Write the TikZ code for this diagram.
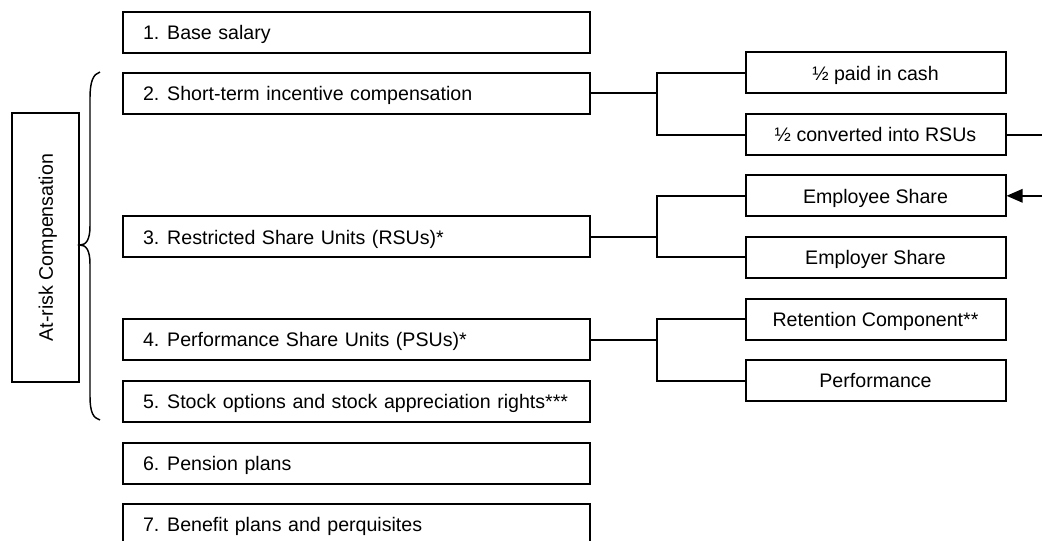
\documentclass[tikz,border=0pt]{standalone}
\usepackage{fontspec}
\setmainfont{Liberation Sans}
\usetikzlibrary{arrows.meta}
\newcommand{\mystrut}{\rule[-0.25em]{0pt}{1.25em}}
\begin{document}
\begin{tikzpicture}[x=0.75pt,y=-0.75pt,
  txt/.style={font=\fontsize{14.7}{18}\selectfont,execute at begin node={\mystrut}},
  lbox/.style={txt,draw,line width=1.5pt,minimum width=350.6pt,minimum height=30.75pt,
    text width=319.8pt,inner xsep=15.4pt,inner ysep=0pt,align=left},
  rbox/.style={txt,draw,line width=1.5pt,minimum width=195pt,minimum height=30.75pt,
    inner sep=0pt,align=center},
  conn/.style={line width=1.5pt},
  bracestyle/.style={line width=1.1pt}]
\clip (0,0) rectangle (1042,540);
\useasboundingbox (0,0) rectangle (1042,540);
% left column
\node[lbox] (b1) at (356.25,32.5) {\mbox{1.\hspace{0.4em}Base salary}};
\node[lbox] (b2) at (356.25,93) {\mbox{2.\hspace{0.4em}Short-term incentive compensation}};
\node[lbox] (b3) at (356.25,236.8) {\mbox{3.\hspace{0.4em}Restricted Share Units (RSUs)*}};
\node[lbox] (b4) at (356.25,339.5) {\mbox{4.\hspace{0.4em}Performance Share Units (PSUs)*}};
\node[lbox] (b5) at (356.25,401.5) {\mbox{5.\hspace{0.4em}Stock options and stock appreciation rights***}};
\node[lbox] (b6) at (356.25,463) {\mbox{6.\hspace{0.4em}Pension plans}};
\node[lbox] (b7) at (356.25,524.5) {\mbox{7.\hspace{0.4em}Benefit plans and perquisites}};
% at-risk box
\node[txt,draw,line width=1.5pt,rotate=90,minimum width=201.75pt,minimum height=50.25pt,inner sep=0pt]
  (risk) at (45.5,247.5) {At-risk Compensation};
% brace
\draw[bracestyle] (100,72) .. controls (93,74) and (90,82) .. (90,98) -- (90,226)
  .. controls (90,240) and (86,245) .. (80,245)
  .. controls (86,245) and (90,250) .. (90,264) -- (90,396)
  .. controls (90,412) and (93,418) .. (100,420);
% right column
\node[rbox] (paid) at (875.5,72.8) {½ paid in cash};
\node[rbox] (conv) at (875.5,134.5) {½ converted into RSUs};
\node[rbox] (emp) at (875.5,195.8) {Employee Share};
\node[rbox] (empr) at (875.5,257.2) {Employer Share};
\node[rbox] (ret) at (875.5,319) {Retention Component**};
\node[rbox] (perf) at (875.5,380.5) {Performance};
% junctions
\coordinate (j2) at (657,93);
\coordinate (j3) at (657,236.8);
\coordinate (j4) at (657,339.5);
\coordinate (far) at (1060,160);
\draw[conn] (b2.east) -- (j2);
\draw[conn] (paid.west) -| (j2) |- (conv.west);
\draw[conn] (b3.east) -- (j3);
\draw[conn] (emp.west) -| (j3) |- (empr.west);
\draw[conn] (b4.east) -- (j4);
\draw[conn] (ret.west) -| (j4) |- (perf.west);
% arrow from converted RSUs to employee share
\draw[conn,-{Triangle[length=12pt,width=10pt]}] (conv.east) -| (far) |- (emp.east);
\end{tikzpicture}
\end{document}
